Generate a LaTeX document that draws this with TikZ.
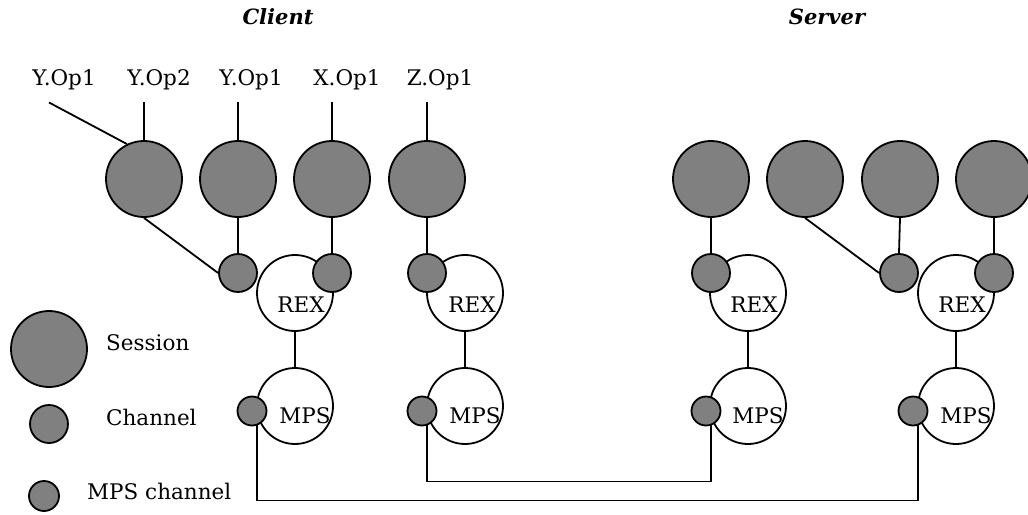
\documentclass[tikz,border=0pt]{standalone}
\usepackage{fontspec}
\setmainfont{DejaVu Serif}
\usetikzlibrary{positioning}
\tikzset{>=latex}

\begin{document}
\begin{tikzpicture}[
    x=1pt, y=-1pt,
    every node/.style={font=\fontsize{21.5}{24}\selectfont},
    sess/.style={circle, draw, line width=1.8pt, fill=gray, minimum size=76pt, inner sep=0pt},
    chan/.style={circle, draw, line width=1.8pt, fill=gray, minimum size=38pt, inner sep=0pt},
    mchan/.style={circle, draw, line width=1.8pt, fill=gray, minimum size=29pt, inner sep=0pt},
    proc/.style={circle, draw, line width=1.8pt, fill=white, minimum size=76pt, inner sep=0pt},
    oplab/.style={anchor=base, inner sep=0pt, outer sep=13pt},
    txt/.style={anchor=base, inner sep=0pt},
    ttl/.style={anchor=base, inner sep=0pt, font=\fontsize{21}{24}\selectfont\bfseries\itshape},
    wire/.style={line width=1.8pt}
    ]
\useasboundingbox (0,0) rectangle (1028,514);

\node[ttl] (client) at (278,24) {Client};
\node[ttl] (server) at (827,24) {Server};

%operations
\node[oplab] (op1) at (64,85) {Y.Op1};
\node[oplab] (op2) at (159,85) {Y.Op2};
\node[oplab] (op3) at (251,85) {Y.Op1};
\node[oplab] (op4) at (347,85) {X.Op1};
\node[oplab] (op5) at (440,85) {Z.Op1};

%client side
\node[sess] (cs1) at (144,179) {};
\node[sess] (cs2) at (238,179) {};
\node[sess] (cs3) at (332,179) {};
\node[sess] (cs4) at (427,179) {};
\node[proc] (crex1) at (295,293) {};
\node[proc] (crex2) at (465,293) {};
\node[proc] (cmps1) at (295,406) {};
\node[proc] (cmps2) at (465,406) {};
\node[chan] (cc1) at (238,273) {};
\node[chan] (cc2) at (332,273) {};
\node[chan] (cc3) at (427,273) {};
\node[mchan] (cmc1) at (252,411) {};
\node[mchan] (cmc2) at (422,411) {};
\node[txt] at ([xshift=6pt,yshift=-19pt]crex1.center) {REX};
\node[txt] at ([xshift=7pt,yshift=-19pt]crex2.center) {REX};
\node[txt] at ([xshift=10pt,yshift=-17pt]cmps1.center) {MPS};
\node[txt] at ([xshift=10pt,yshift=-17pt]cmps2.center) {MPS};

%server side
\node[sess] (ss1) at (711,179) {};
\node[sess] (ss2) at (805,179) {};
\node[sess] (ss3) at (900,179) {};
\node[sess] (ss4) at (994,179) {};
\node[proc] (srex1) at (748,293) {};
\node[proc] (srex2) at (956,293) {};
\node[proc] (smps1) at (748,406) {};
\node[proc] (smps2) at (956,406) {};
\node[chan] (sc1) at (711,273) {};
\node[chan] (sc2) at (899,273) {};
\node[chan] (sc3) at (994,273) {};
\node[mchan] (smc1) at (706,411) {};
\node[mchan] (smc2) at (913,411) {};
\node[txt] at ([xshift=6pt,yshift=-19pt]srex1.center) {REX};
\node[txt] at ([xshift=6pt,yshift=-19pt]srex2.center) {REX};
\node[txt] at ([xshift=10pt,yshift=-17pt]smps1.center) {MPS};
\node[txt] at ([xshift=10pt,yshift=-17pt]smps2.center) {MPS};

%legend
\node[sess] (lsess) at (49,349) {};
\node[chan] (lchan) at (49,424) {};
\node[mchan, minimum size=30pt] (lmchan) at (44,496) {};
\node[txt, anchor=base west] at (106,350) {Session};
\node[txt, anchor=base west] at (106,425) {Channel};
\node[txt, anchor=base west] at (87,499) {MPS channel};

%connections
\draw[wire] ([xshift=-15pt]op1.south) -- (cs1.116);
\draw[wire] (cs1.north) -- (cs1.north |- op2.south);
\draw[wire] (cs2.north) -- (cs2.north |- op3.south);
\draw[wire] (cs3.north) -- (cs3.north |- op4.south);
\draw[wire] (cs4.north) -- (cs4.north |- op5.south);
\draw[wire] (cs1.south) -- (cc1.west);
\draw[wire] (cs2.south) -- (cc1.north);
\draw[wire] (cs3.south) -- (cc2.north);
\draw[wire] (cs4.south) -- (cc3.north);
\draw[wire] (ss1.south) -- (sc1.north);
\draw[wire] (ss2.south) -- (sc2.west);
\draw[wire] (ss3.south) -- (sc2.north);
\draw[wire] (ss4.south) -- (sc3.north);
\draw[wire] (crex1) -- (cmps1);
\draw[wire] (crex2) -- (cmps2);
\draw[wire] (srex1) -- (smps1);
\draw[wire] (srex2) -- (smps2);
\draw[wire] (cmc1.-70) -- ++(0,75) -| (smc2.-70);
\draw[wire] (cmc2.-70) -- ++(0,56) -| (smc1.-70);
\end{tikzpicture}
\end{document}
